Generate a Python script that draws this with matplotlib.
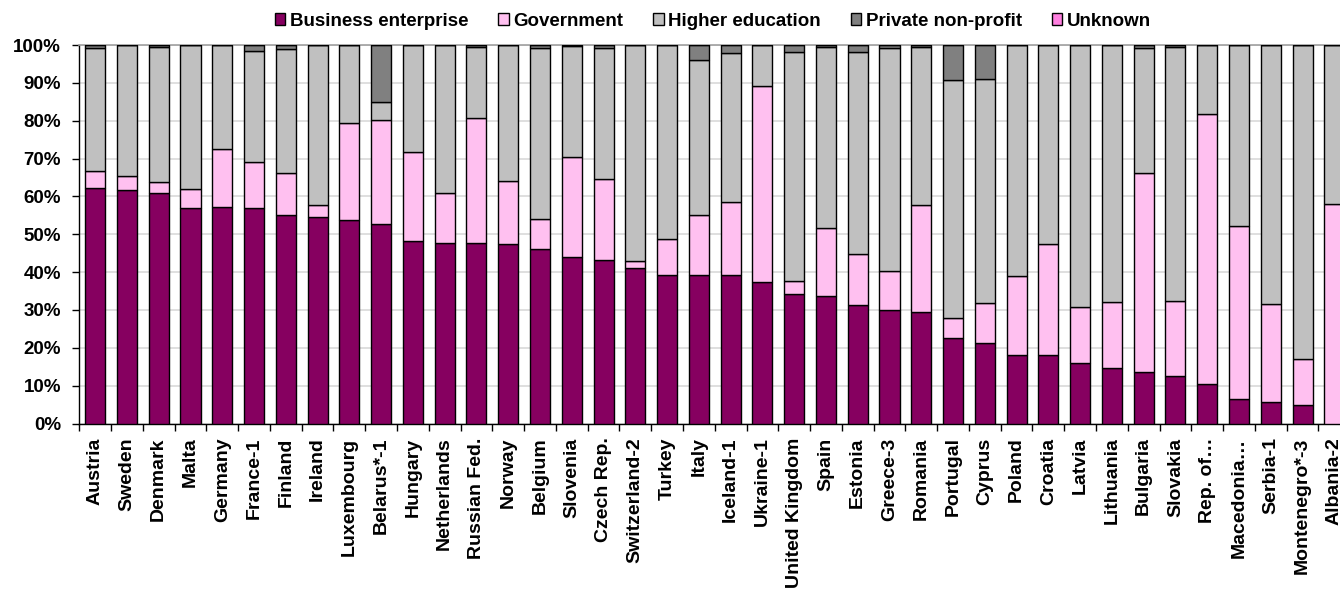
import matplotlib
matplotlib.use("Agg")
import matplotlib.pyplot as plt
from matplotlib.ticker import FixedLocator, FuncFormatter
import numpy as np

plt.rcParams['font.family'] = ['Liberation Sans', 'DejaVu Sans']
plt.rcParams['font.weight'] = 'bold'

countries = ["Austria", "Sweden", "Denmark", "Malta", "Germany", "France-1", "Finland",
             "Ireland", "Luxembourg", "Belarus*-1", "Hungary", "Netherlands", "Russian Fed.",
             "Norway", "Belgium", "Slovenia", "Czech Rep.", "Switzerland-2", "Turkey", "Italy",
             "Iceland-1", "Ukraine-1", "United Kingdom", "Spain", "Estonia", "Greece-3",
             "Romania", "Portugal", "Cyprus", "Poland", "Croatia", "Latvia", "Lithuania",
             "Bulgaria", "Slovakia", "Rep. of\u2026", "Macedonia\u2026", "Serbia-1",
             "Montenegro*-3", "Albania-2"]

business = [62.3, 61.7, 60.8, 56.9, 57.1, 56.9, 55.2, 54.5, 53.7, 52.7, 48.2, 47.8, 47.7,
            47.3, 46.2, 44.0, 43.3, 41.0, 39.2, 39.2, 39.2, 37.3, 34.2, 33.7, 31.3, 29.9,
            29.5, 22.6, 21.2, 18.1, 18.0, 16.0, 14.7, 13.6, 12.6, 10.5, 6.5, 5.6, 4.8, 0.0]
government = [4.3, 3.8, 3.1, 5.0, 15.4, 12.3, 11.1, 3.2, 25.8, 27.5, 23.4, 13.2, 32.9,
              16.9, 7.7, 26.4, 21.3, 2.0, 9.6, 15.9, 19.2, 51.9, 3.4, 17.9, 13.4, 10.4,
              28.2, 5.4, 10.6, 21.0, 29.5, 14.9, 17.5, 52.7, 19.7, 71.3, 45.6, 26.1, 12.2, 58.0]
higher_edu = [32.5, 34.5, 35.5, 38.1, 27.5, 29.3, 32.6, 42.3, 20.5, 4.8, 28.4, 39.0, 19.0,
              35.8, 45.2, 29.3, 34.7, 57.0, 51.2, 41.0, 39.4, 10.8, 60.6, 48.0, 53.5, 59.0,
              41.9, 62.8, 59.2, 60.9, 52.5, 69.1, 67.8, 33.0, 67.3, 18.2, 47.9, 68.3, 83.0, 42.0]
private_np = [0.9, 0.0, 0.6, 0.0, 0.0, 1.5, 1.1, 0.0, 0.0, 15.0, 0.0, 0.0, 0.4,
              0.0, 0.9, 0.3, 0.7, 0.0, 0.0, 3.9, 2.2, 0.0, 1.8, 0.4, 1.8, 0.7,
              0.4, 9.2, 9.0, 0.0, 0.0, 0.0, 0.0, 0.7, 0.4, 0.0, 0.0, 0.0, 0.0, 0.0]
unknown = [0.0] * 40

series_names = ["Business enterprise", "Government", "Higher education",
                "Private non-profit", "Unknown"]
series_colors = ["#860060", "#FFC0F0", "#C0C0C0", "#808080", "#FF80E0"]
yticks = [0, 10, 20, 30, 40, 50, 60, 70, 80, 90, 100]

W, H = 1340, 590
fig = plt.figure(figsize=(W / 100, H / 100), dpi=100)
ax_left, ax_right = 79.3, 1350.2
ax_top, ax_bottom = 45.0, 423.5
ax = fig.add_axes([ax_left / W, 1 - ax_bottom / H, (ax_right - ax_left) / W,
                   (ax_bottom - ax_top) / H])

x = np.arange(len(countries))
bottom = np.zeros(len(countries))
handles = []
for name, vals, col in zip(series_names,
                           [business, government, higher_edu, private_np, unknown],
                           series_colors):
    v = np.array(vals)
    b = ax.bar(x, v, width=0.63, bottom=bottom, color=col, edgecolor="black",
               linewidth=1.0, label=name, zorder=3)
    handles.append(b)
    bottom = bottom + v

ax.set_xlim(-0.5, len(countries) - 0.5)
ax.set_ylim(0, 100)
ax.set_yticks(yticks)
ax.yaxis.set_major_formatter(FuncFormatter(lambda v, p: f"{int(v)}%"))
ax.tick_params(axis="y", length=5, width=1, pad=8, labelsize=13.5, direction="out")
ax.yaxis.grid(True, color="#D9D9D9", linewidth=1.2, zorder=0)
ax.set_axisbelow(True)

ax.set_xticks(x)
ax.set_xticklabels(countries, rotation=90, fontsize=14, fontweight="bold")
ax.tick_params(axis="x", which="major", length=0, pad=10)
ax.xaxis.set_minor_locator(FixedLocator(np.arange(-0.5, len(countries) + 0.5, 1.0)))
ax.tick_params(axis="x", which="minor", length=5, width=1, direction="out")

for lab in ax.get_yticklabels():
    lab.set_fontweight("bold")

ax.spines["left"].set_color("black")
ax.spines["bottom"].set_color("black")
ax.spines["left"].set_linewidth(1.0)
ax.spines["bottom"].set_linewidth(1.0)
ax.spines["top"].set_color("#A0A0A0")
ax.spines["top"].set_linewidth(1.2)
ax.spines["right"].set_visible(False)

fig.legend(handles=handles, labels=series_names, loc="center", ncol=5,
           bbox_to_anchor=(713 / W, 1 - 21 / H), bbox_transform=fig.transFigure,
           frameon=False, fontsize=13.5, handlelength=0.55, handleheight=0.55,
           handletextpad=0.25, columnspacing=1.6, borderpad=0, prop={"weight": "bold", "size": 13.5})

fig.savefig("out.png", dpi=100)
